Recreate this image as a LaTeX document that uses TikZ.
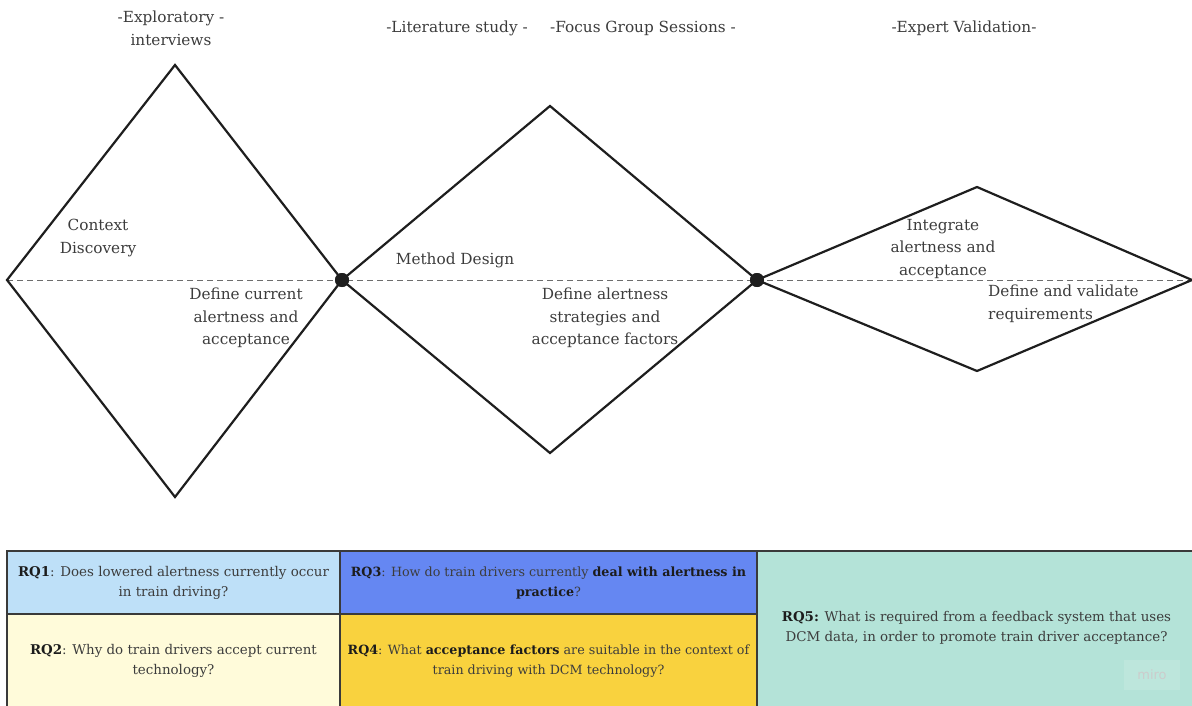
\documentclass[tikz,border=0pt]{standalone}
\usepackage{fontspec}
\setmainfont{DejaVu Serif}
\setsansfont{DejaVu Sans}
\definecolor{ink}{HTML}{3C3C3C}
\definecolor{edge}{HTML}{1E1E1E}
\definecolor{boxline}{HTML}{3A3A3A}
\definecolor{rqhead}{HTML}{1C1C1C}
\definecolor{rqone}{HTML}{BEE0F8}
\definecolor{rqtwo}{HTML}{FFFBDA}
\definecolor{rqthree}{HTML}{6587F2}
\definecolor{rqfour}{HTML}{F9D23E}
\definecolor{rqfive}{HTML}{B4E3D8}
\newcommand{\hl}[1]{\textbf{\color{rqhead}#1}}
\begin{document}
\begin{tikzpicture}[x=1pt,y=-1pt,
  diamondline/.style={draw=edge,line width=2.2pt,line join=miter},
  axisline/.style={draw=edge!65,line width=1pt,dash pattern=on 6pt off 4pt},
  junction/.style={circle,fill=edge,inner sep=0pt,minimum size=14pt},
  phase/.style={text=ink,font=\fontsize{15.3}{23}\selectfont,align=center,inner sep=0pt},
  stagetext/.style={text=ink,font=\fontsize{15.3}{22.5}\selectfont,align=center,inner sep=0pt},
  rqbox/.style={draw=boxline,line width=1.8pt,inner sep=0pt},
  rqtext/.style={text=ink,align=center,inner sep=0pt,font=\fontsize{13.4}{20}\selectfont},
  rqsmall/.style={rqtext,font=\fontsize{12.7}{20}\selectfont}
]
\useasboundingbox (0,0) rectangle (1192,706);

% diamond corners
\coordinate (d1l) at (7,280);
\coordinate (d1t) at (175,65);
\coordinate (d1b) at (175,497);
\coordinate (d2t) at (550,106);
\coordinate (d2b) at (550,453);
\coordinate (d3t) at (977,187);
\coordinate (d3b) at (977,371);
\coordinate (d3r) at (1192,280);
\node[junction] (j1) at (342,280) {};
\node[junction] (j2) at (757,280) {};

% horizontal axis
\draw[axisline] (d1l) -- (d3r);

% the three diamonds
\draw[diamondline] (d1l) -- (d1t) -- (j1.center) -- (d1b) -- cycle;
\draw[diamondline] (j1.center) -- (d2t) -- (j2.center) -- (d2b) -- cycle;
\draw[diamondline] (j2.center) -- (d3t) -- (d3r) -- (d3b) -- cycle;
\fill[edge] (j1) circle (7pt);
\fill[edge] (j2) circle (7pt);

% phase headings
\node[phase] (p1) at (171,28.5) {-Exploratory -\\interviews};
\node[phase] (p2) at (457,28) {-Literature study -};
\node[phase] (p3) at (643,28) {-Focus Group Sessions -};
\node[phase] (p4) at (964,28) {-Expert Validation-};

% stage labels
\node[stagetext] (l1) at (98,238) {Context\\Discovery};
\node[stagetext] (l2) at (246,318) {Define current\\alertness and\\acceptance};
\node[stagetext] (l3) at (455,260) {Method Design};
\node[stagetext] (l4) at (605,318) {Define alertness\\strategies and\\acceptance factors};
\node[stagetext] (l5) at (943,249) {Integrate\\alertness and\\acceptance};
\node[stagetext,align=left,anchor=west] (l6) at (988,304) {Define and validate\\requirements};

% research question cells
\node[rqbox,fill=rqone,minimum width=333pt,minimum height=63pt] (rq1) at (173.5,582.5) {};
\node[rqbox,fill=rqtwo,minimum width=333pt,minimum height=96pt] (rq2) at (173.5,662) {};
\node[rqbox,fill=rqthree,minimum width=417pt,minimum height=63pt] (rq3) at (548.5,582.5) {};
\node[rqbox,fill=rqfour,minimum width=417pt,minimum height=96pt] (rq4) at (548.5,662) {};
\node[rqbox,fill=rqfive,minimum width=439pt,minimum height=159pt] (rq5) at (976.5,630.5) {};

% research question texts
\node[rqtext] (t1) at (173.5,582.5)
  {\hl{RQ1}: Does lowered alertness currently occur\\in train driving?};
\node[rqtext] (t2) at (173.5,661)
  {\hl{RQ2}: Why do train drivers accept current\\technology?};
\node[rqsmall] (t3) at (548.5,582.5)
  {\hl{RQ3}: How do train drivers currently \hl{deal with alertness in}\\\hl{practice}?};
\node[rqsmall] (t4) at (548.5,661)
  {\hl{RQ4}: What \hl{acceptance factors} are suitable in the context of\\train driving with DCM technology?};
\node[rqtext] (t5) at (976.5,628)
  {\hl{RQ5:} What is required from a feedback system that uses\\DCM data, in order to promote train driver acceptance?};

% watermark
\node[fill=white,fill opacity=0.12,text opacity=1,text=black!20,font=\sffamily\fontsize{13}{13}\selectfont,
  minimum width=56pt,minimum height=30pt] (wm) at (1152,675) {miro};
\end{tikzpicture}
\end{document}
